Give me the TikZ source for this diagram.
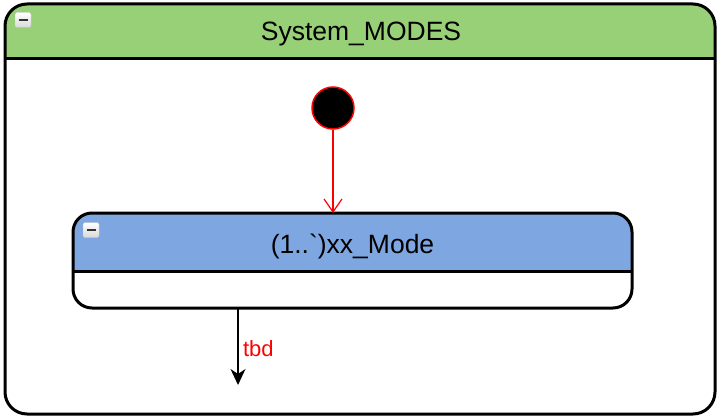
\documentclass[tikz,border=0pt]{standalone}
\usepackage{fontspec}
\setmainfont{Liberation Sans}
\usepackage{tikz}
\usetikzlibrary{arrows.meta, positioning, calc}
\definecolor{hdrgreen}{HTML}{97D077}
\definecolor{hdrblue}{HTML}{7EA6E0}
\definecolor{tbdred}{HTML}{FF0000}
\tikzset{
    statebox/.style={draw, line width=3pt, fill=white, outer sep=0pt, inner sep=0pt},
    foldicon/.style={draw=gray!45, rounded corners=1.5pt, top color=white, bottom color=gray!30,
        minimum width=16pt, minimum height=15pt, inner sep=0pt,
        path picture={\draw[gray!40!black, line width=2pt, sharp corners]
            ([xshift=-4.5pt]path picture bounding box.center) -- ([xshift=4.5pt]path picture bounding box.center);}},
    titletext/.style={font=\fontsize{26.5}{30}\selectfont},
}

\begin{document}
\begin{tikzpicture}[x=1pt, y=1pt]
    \useasboundingbox (0,0) rectangle (719,418);

    % outer composite state
    \node[statebox, rounded corners=22pt, minimum width=710pt, minimum height=410pt,
          path picture={\fill[hdrgreen, sharp corners] (path picture bounding box.north west) rectangle ([yshift=-55pt]path picture bounding box.north east);}]
          (modes) at (360,209) {};
    \draw[line width=3pt] ([yshift=-55pt]modes.north west) -- ([yshift=-55pt]modes.north east);
    \node[titletext] (modestitle) at ($(modes.north)+(1,-30)$) {System\_MODES};
    \node[foldicon] (modesfold) at (23,398) {};

    % initial pseudo state
    \node[circle, fill=black, draw=tbdred, line width=1.5pt, minimum size=42pt, inner sep=0pt] (init) at (333,310) {};

    % inner state
    \node[statebox, rounded corners=19pt, minimum width=559pt, minimum height=95pt,
          path picture={\fill[hdrblue, sharp corners] (path picture bounding box.north west) rectangle ([yshift=-58pt]path picture bounding box.north east);}]
          (mode) at (352.5,157.5) {};
    \draw[line width=3pt] ([yshift=-58pt]mode.north west) -- ([yshift=-58pt]mode.north east);
    \node[titletext] (modetitle) at ($(mode.north)+(0,-33.5)$) {(1..\textasciigrave)xx\_Mode};
    \node[foldicon] (modefold) at (91,188) {};

    % transitions
    \coordinate (exit) at (238,33);
    \draw[tbdred, line width=1.2pt, -{Straight Barb[length=13pt, width=18pt]}] (init) -- (init |- mode.north);
    \draw[line width=1.5pt, -{Stealth[length=16pt, width=15pt, inset=5pt]}] (exit |- mode.south) -- node[right, xshift=1pt, yshift=-2pt, text=tbdred, font=\fontsize{22}{24}\selectfont]{tbd} (exit);
\end{tikzpicture}
\end{document}
